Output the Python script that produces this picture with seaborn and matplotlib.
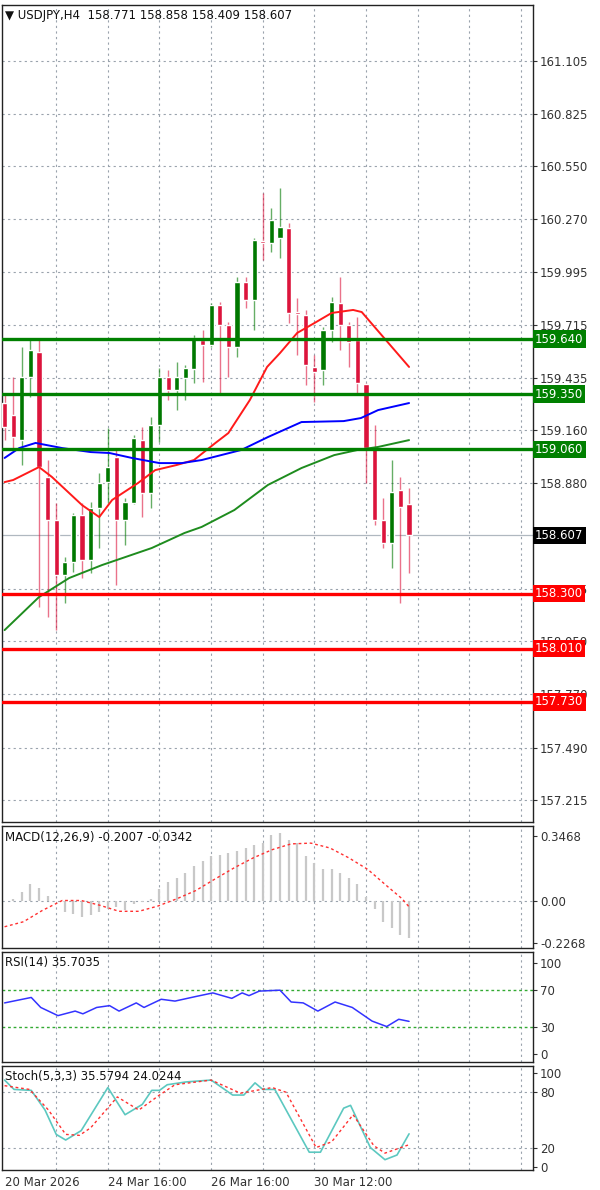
import numpy as np
import pandas as pd
import matplotlib
matplotlib.use("Agg")
import matplotlib.pyplot as plt
import matplotlib.transforms as mtransforms
import seaborn as sns

sns.set_style("white")
plt.rcParams['font.family'] = ['DejaVu Sans']

# ---- data ----
opens = [159.303,159.240,159.108,159.440,159.572,158.914,158.687,158.398,158.466,158.714,
         158.477,158.751,158.887,159.019,158.687,158.777,159.108,158.829,159.187,159.440,
         159.372,159.435,159.482,159.635,159.608,159.819,159.714,159.598,159.940,159.845,
         160.156,160.145,160.172,160.224,159.777,159.766,159.493,159.477,159.687,159.829,
         159.714,159.635,159.403,159.066,158.687,158.566,158.845,158.771]
highs = [159.345,159.440,159.598,159.645,159.645,159.003,158.777,158.493,158.724,158.777,
         158.782,158.935,159.172,159.066,158.803,159.135,159.177,159.229,159.487,159.477,
         159.519,159.503,159.661,159.687,159.829,159.835,159.729,159.966,159.966,160.172,
         160.408,160.329,160.435,160.250,159.856,159.793,159.556,159.703,159.861,159.966,
         159.729,159.756,159.408,159.187,158.803,159.003,158.914,158.858]
lows = [159.108,159.056,158.977,159.335,158.230,158.177,158.108,158.251,158.414,158.382,
        158.408,158.540,158.777,158.345,158.556,158.770,158.703,158.751,159.098,159.319,
        159.266,159.319,159.408,159.413,159.598,159.345,159.440,159.545,159.803,159.687,
        160.056,160.098,160.066,159.724,159.556,159.398,159.308,159.398,159.624,159.582,
        159.493,159.356,158.882,158.661,158.540,158.435,158.251,158.409]
closes = [159.177,159.124,159.440,159.582,158.966,158.687,158.398,158.466,158.714,158.477,
          158.751,158.882,158.966,158.687,158.782,159.119,158.829,159.187,159.440,159.372,
          159.440,159.487,159.645,159.608,159.819,159.714,159.598,159.940,159.845,160.161,
          160.145,160.266,160.229,159.777,159.772,159.503,159.466,159.687,159.835,159.714,
          159.624,159.408,159.066,158.687,158.566,158.835,158.756,158.607]

ma_red_x = [0,1,4,5.5,9,11,12.5,15.5,17.5,20,22,24.5,26,28.5,30.5,32,34,36,38,40.5,41.5,43,45,47]
ma_red = [158.887,158.898,158.966,158.914,158.766,158.703,158.793,158.882,158.950,158.977,159.003,
          159.093,159.145,159.319,159.493,159.566,159.672,159.724,159.777,159.793,159.782,159.703,159.598,159.493]
ma_blue_x = [0,1.7,3.6,6.7,10,12.2,14.8,18,20.6,22.9,27.5,30.6,34.5,39.4,41.4,43.4,47]
ma_blue = [159.014,159.066,159.093,159.066,159.045,159.040,159.014,158.987,158.987,159.003,
           159.056,159.124,159.203,159.208,159.224,159.266,159.303]
ma_green_x = [0,4,7.5,11.3,17.1,20.9,22.9,26.7,30.6,34.5,38.3,41,43.4,47]
ma_green = [158.108,158.282,158.382,158.450,158.540,158.619,158.651,158.740,158.872,158.961,
            159.029,159.056,159.072,159.108]

green_levels = [159.640, 159.350, 159.060]
red_levels = [158.300, 158.010, 157.730]
last_price = 158.607
price_ticks = [161.105,160.825,160.550,160.270,159.995,159.715,159.435,159.160,158.880,
               158.325,158.050,157.770,157.490,157.215]

macd_hist = [0,0.01,0.044,0.088,0.065,0.026,0,-0.062,-0.07,-0.088,-0.079,-0.062,-0.044,-0.035,
             -0.053,-0.018,-0.009,0.009,0.062,0.097,0.123,0.150,0.185,0.211,0.238,0.246,0.255,
             0.264,0.282,0.299,0.308,0.352,0.361,0.326,0.308,0.238,0.202,0.167,0.167,0.150,
             0.123,0.088,0.018,-0.044,-0.114,-0.150,-0.185,-0.2007]
macd_sig_x = [0,2.2,4.4,6.7,8.9,11.1,13.3,15.6,17.8,20,22.2,24.4,26.7,28.9,31.1,33.3,35.6,
              37.8,40,42.2,44.4,46.2,47]
macd_sig = [-0.141,-0.114,-0.053,0,0,-0.026,-0.058,-0.058,-0.03,0.009,0.053,0.114,0.176,0.229,
            0.273,0.304,0.308,0.282,0.229,0.167,0.079,0.009,-0.0342]

rsi_x = [0,3.1,4.2,6.2,8.2,9.1,10.7,12.2,13.3,15.3,16.2,18.2,19.8,22.2,24.2,26.4,27.6,28.4,
         29.6,32,33.3,34.7,36.4,38.4,40.4,42.7,44.4,45.8,47]
rsi = [56,62,51,42,47,44,51,53,47,56,51,60,58,63,67,61,67,64,69,70,57,56,47,57,51,36,30,38,35.7]

stk_x = [0,1.1,3.1,4.7,6.0,7.1,8.9,12.0,14.0,16.0,17.1,18.0,18.9,21.1,24.0,26.5,27.8,29.1,
         30.0,31.4,35.4,36.7,39.4,40.2,42.5,44.2,45.6,47]
stk_k = [93,83,82,61,35,29,39,85,56,67,82,82,88,91,93,77,77,90,83,83,16,16,63,66,21,8,13,35.6]
std_x = [0,2.9,5.1,7.1,8.7,10.0,13.1,15.6,18.0,19.8,24.0,27.4,31.1,32.7,36.2,38.0,40.5,42.9,44.2,47]
std_d = [87,83,61,35,34,42,75,61,77,88,93,79,85,80,21,27,56,23,15,24]

date_pos = [0, 12, 24, 36]
date_labels = ["20 Mar 2026", "24 Mar 16:00", "26 Mar 16:00", "30 Mar 12:00"]

# ---- figure ----
W, H = 600, 1190
fig = plt.figure(figsize=(6, 11.9), dpi=100)
def rect(top, bottom, left=2, right=533):
    return [left / W, 1 - bottom / H, (right - left) / W, (bottom - top) / H]

ax = fig.add_axes(rect(5, 822))
ax_m = fig.add_axes(rect(826, 948), sharex=ax)
ax_r = fig.add_axes(rect(952, 1062), sharex=ax)
ax_s = fig.add_axes(rect(1066, 1170), sharex=ax)

XMIN, XMAX = -0.3, 61.4
grid_kw = dict(color="#9aa3ad", linestyle=(0, (2, 3)), linewidth=0.8)
GREEN, RED = "#007800", "#DC143C"
FS = 8.5

for a in (ax, ax_m, ax_r, ax_s):
    a.set_xlim(XMIN, XMAX)
    for s in a.spines.values():
        s.set_color("#222222"); s.set_linewidth(1)
    a.yaxis.tick_right()
    a.tick_params(axis="y", length=3, labelsize=FS, colors="#333333", pad=2)
    a.tick_params(axis="x", length=0)
    for xv in range(6, 61, 6):
        a.axvline(xv, **grid_kw, zorder=0)
    if a is not ax_s:
        plt.setp(a.get_xticklabels(), visible=False)

# main price panel
ax.set_ylim(157.098, 161.398)
ax.set_yticks(price_ticks)
ax.set_yticklabels([f"{t:.3f}" for t in price_ticks])
for t in price_ticks:
    ax.axhline(t, **grid_kw, zorder=0)
ax.axhline(last_price, color="#b0b8c0", lw=0.9, zorder=1)

df = pd.DataFrame(dict(o=opens, h=highs, l=lows, c=closes))
df["x"] = np.arange(len(df))
up = df[df.c >= df.o]; dn = df[df.c < df.o]
for sub, col in ((up, GREEN), (dn, RED)):
    ax.vlines(sub.x, sub.l, sub.h, color=col, lw=1, alpha=0.6, zorder=3)
    ax.bar(sub.x, (sub.c - sub.o).abs().clip(lower=0.012), bottom=np.minimum(sub.o, sub.c),
           width=0.6, color=col, zorder=4)

for lx, ly, col in ((ma_red_x, ma_red, "#FF1A1A"), (ma_blue_x, ma_blue, "#0000FF"),
                    (ma_green_x, ma_green, "#1E8C1E")):
    sns.lineplot(x=lx, y=ly, ax=ax, color=col, lw=1.4, zorder=5)

trans = mtransforms.blended_transform_factory(ax.transAxes, ax.transData)
for lv in green_levels:
    ax.axhline(lv, color="#008000", lw=2.4, zorder=6)
    ax.text(1.004, lv, f"{lv:.3f}", transform=trans, va="center", ha="left", fontsize=FS,
            color="white", clip_on=False, zorder=10,
            bbox=dict(boxstyle="square,pad=0.18", fc="#008000", ec="none"))
for lv in red_levels:
    ax.axhline(lv, color="#FF0000", lw=2.4, zorder=6)
    ax.text(1.004, lv, f"{lv:.3f}", transform=trans, va="center", ha="left", fontsize=FS,
            color="white", clip_on=False, zorder=10,
            bbox=dict(boxstyle="square,pad=0.18", fc="#FF0000", ec="none"))
ax.text(1.004, last_price, f"{last_price:.3f}", transform=trans, va="center", ha="left",
        fontsize=FS, color="white", clip_on=False, zorder=10,
        bbox=dict(boxstyle="square,pad=0.18", fc="black", ec="none"))
ax.text(0.005, 0.995, "\u25bc USDJPY,H4  158.771 158.858 158.409 158.607", transform=ax.transAxes,
        va="top", ha="left", fontsize=FS, color="#111111")

# MACD
ax_m.set_ylim(-0.255, 0.40)
ax_m.set_yticks([0.3468, 0.0, -0.2268]); ax_m.set_yticklabels(["0.3468", "0.00", "-0.2268"])
ax_m.axhline(0, **grid_kw, zorder=0)
ax_m.vlines(np.arange(len(macd_hist)), 0, macd_hist, color="#c8c8c8", lw=1.6, zorder=2)
sns.lineplot(x=macd_sig_x, y=macd_sig, ax=ax_m, color="#FF3030", lw=1, linestyle=(0, (2, 2)), zorder=3)
ax_m.text(0.005, 0.96, "MACD(12,26,9) -0.2007 -0.0342", transform=ax_m.transAxes, va="top",
          ha="left", fontsize=FS, color="#111111")

# RSI
ax_r.set_ylim(-9, 112)
ax_r.set_yticks([100, 70, 30, 0])
ax_r.axhline(70, color="#33aa33", lw=1, linestyle=(0, (2, 2)))
ax_r.axhline(30, color="#33aa33", lw=1, linestyle=(0, (2, 2)))
sns.lineplot(x=rsi_x, y=rsi, ax=ax_r, color="#3333FF", lw=1.1)
ax_r.text(0.005, 0.96, "RSI(14) 35.7035", transform=ax_r.transAxes, va="top", ha="left",
          fontsize=FS, color="#111111")

# Stochastic
ax_s.set_ylim(-3, 108)
ax_s.set_yticks([100, 80, 20, 0])
ax_s.axhline(80, **grid_kw); ax_s.axhline(20, **grid_kw)
sns.lineplot(x=stk_x, y=stk_k, ax=ax_s, color="#5cc8c0", lw=1.2)
sns.lineplot(x=std_x, y=std_d, ax=ax_s, color="#FF3030", lw=1, linestyle=(0, (2, 2)))
ax_s.text(0.005, 0.96, "Stoch(5,3,3) 35.5794 24.0244", transform=ax_s.transAxes, va="top",
          ha="left", fontsize=FS, color="#111111")
ax_s.set_xticks(date_pos)
ax_s.set_xticklabels(date_labels, ha="left", fontsize=FS, color="#333333")
ax_s.tick_params(axis="x", length=3, pad=1)

for a in (ax, ax_m, ax_r, ax_s):
    a.set_xlabel(""); a.set_ylabel("")
    if a.get_legend(): a.get_legend().remove()

fig.savefig("out.png", dpi=100, facecolor="white")
